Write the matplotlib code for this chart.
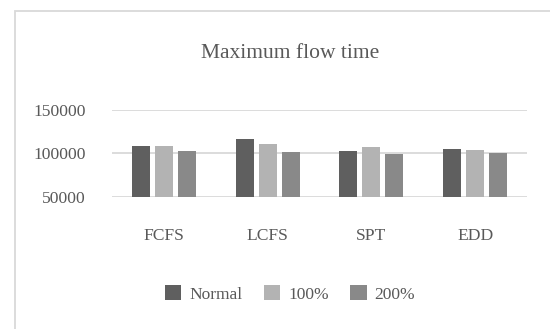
import numpy as np
import matplotlib
matplotlib.use("Agg")
import matplotlib.pyplot as plt
from matplotlib.patches import Rectangle

categories = ["FCFS", "LCFS", "SPT", "EDD"]
series_names = ["Normal", "100%", "200%"]
normal = [108000, 116000, 102500, 104800]
pct100 = [108000, 111000, 107800, 104400]
pct200 = [102400, 101200, 99500, 100800]
y_ticks = [50000, 100000, 150000]

colors = ["#5f5f5f", "#b3b3b3", "#898989"]
text_color = "#595959"

plt.rcParams["font.family"] = ["Liberation Serif", "DejaVu Serif"]

fig = plt.figure(figsize=(5.5, 3.29), dpi=100)

# chart border (cropped screenshot, only left and top edges visible)
fig.patches.append(Rectangle((15 / 550, -0.5), 2.0, 1.5 - 10.7 / 329,
                             transform=fig.transFigure, fill=False,
                             edgecolor="#d9d9d9", linewidth=1.3))

ax = fig.add_axes([112 / 550, 1 - 197 / 329, 415 / 550, (197 - 109.7) / 329])

x = np.arange(len(categories))
width = 0.1735
pitch = 0.2217
for i, (vals, name) in enumerate(zip([normal, pct100, pct200], series_names)):
    ax.bar(x + (i - 1) * pitch, [v - 50000 for v in vals], width,
           bottom=50000, color=colors[i], label=name, zorder=3)

ax.set_xlim(-0.5, len(categories) - 0.5)
ax.set_ylim(50000, 150000)
ax.set_yticks(y_ticks)
ax.set_yticklabels([str(t) for t in y_ticks])
ax.set_xticks(x)
ax.set_xticklabels(categories)
ax.grid(axis="y", color="#d9d9d9", linewidth=1.3, zorder=0)
for s in ax.spines.values():
    s.set_visible(False)
ax.tick_params(axis="both", length=0, labelsize=12.6, colors=text_color)
ax.tick_params(axis="y", pad=19)
ax.tick_params(axis="x", pad=22)

fig.text(290 / 550, 1 - 54 / 329, "Maximum flow time", ha="center", va="center",
         fontsize=15.5, color=text_color)

leg = fig.legend(loc="center", bbox_to_anchor=(290 / 550, 1 - 294 / 329), ncol=3,
                 frameon=False, fontsize=12.5, handlelength=0.95, handleheight=0.95,
                 handletextpad=0.45, columnspacing=1.25)
for t in leg.get_texts():
    t.set_color(text_color)

fig.savefig("out.png", dpi=100)
